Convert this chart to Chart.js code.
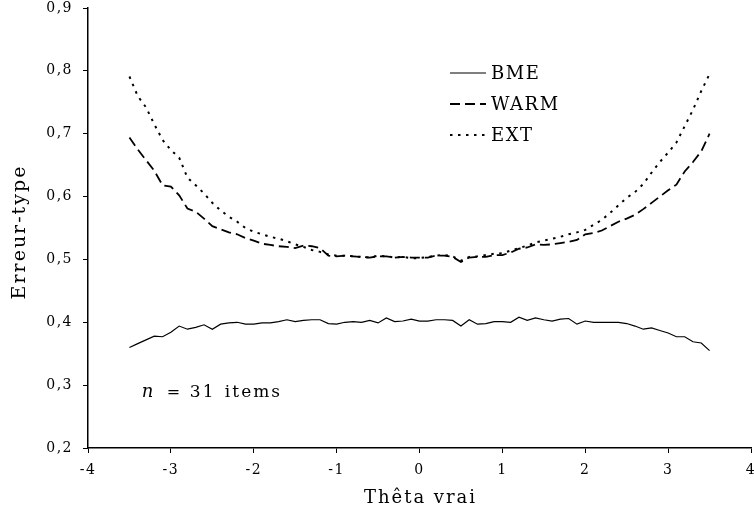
<!DOCTYPE html>
<html>
<head>
<meta charset="utf-8">
<script src="https://cdn.jsdelivr.net/npm/chart.js@4/dist/chart.umd.min.js"></script>
<style>
html,body{margin:0;padding:0;background:#fff;}
#wrap{width:754px;height:514px;position:relative;}
</style>
</head>
<body>
<div id="wrap"><canvas id="c" width="754" height="514"></canvas></div>
<script>
const thetas = [-3.5,-3.4,-3.3,-3.2,-3.1,-3.0,-2.9,-2.8,-2.7,-2.6,-2.5,-2.4,-2.3,-2.2,-2.1,-2.0,-1.9,-1.8,-1.7,-1.6,-1.5,-1.4,-1.3,-1.2,-1.1,-1.0,-0.9,-0.8,-0.7,-0.6,-0.5,-0.4,-0.3,-0.2,-0.1,0.0,0.1,0.2,0.3,0.4,0.5,0.6,0.7,0.8,0.9,1.0,1.1,1.2,1.3,1.4,1.5,1.6,1.7,1.8,1.9,2.0,2.1,2.2,2.3,2.4,2.5,2.6,2.7,2.8,2.9,3.0,3.1,3.2,3.3,3.4,3.5];
const bme = [0.360,0.366,0.372,0.378,0.377,0.384,0.394,0.389,0.392,0.396,0.389,0.397,0.399,0.400,0.397,0.397,0.399,0.399,0.401,0.404,0.401,0.403,0.404,0.404,0.398,0.397,0.400,0.401,0.400,0.403,0.399,0.407,0.401,0.402,0.405,0.402,0.402,0.404,0.404,0.403,0.394,0.404,0.397,0.398,0.401,0.401,0.400,0.408,0.403,0.407,0.404,0.402,0.405,0.406,0.397,0.402,0.400,0.400,0.400,0.400,0.398,0.394,0.389,0.391,0.387,0.383,0.377,0.377,0.369,0.367,0.355];
const warm = [0.694,0.675,0.658,0.641,0.618,0.616,0.602,0.581,0.576,0.565,0.553,0.548,0.543,0.540,0.534,0.530,0.525,0.523,0.521,0.520,0.518,0.522,0.521,0.518,0.506,0.505,0.506,0.505,0.504,0.503,0.505,0.505,0.503,0.504,0.503,0.503,0.503,0.506,0.506,0.504,0.496,0.503,0.504,0.504,0.507,0.507,0.511,0.517,0.519,0.524,0.523,0.524,0.526,0.528,0.531,0.540,0.542,0.546,0.553,0.560,0.565,0.571,0.580,0.590,0.600,0.610,0.619,0.640,0.655,0.672,0.700];
const ext = [0.791,0.760,0.742,0.715,0.690,0.674,0.662,0.630,0.618,0.605,0.590,0.578,0.568,0.560,0.550,0.544,0.540,0.536,0.533,0.529,0.524,0.520,0.515,0.512,0.508,0.506,0.506,0.505,0.504,0.503,0.506,0.505,0.503,0.504,0.502,0.502,0.504,0.506,0.507,0.505,0.498,0.504,0.505,0.507,0.509,0.510,0.514,0.518,0.522,0.527,0.530,0.533,0.536,0.540,0.543,0.547,0.555,0.563,0.574,0.586,0.598,0.607,0.620,0.638,0.655,0.670,0.686,0.712,0.738,0.768,0.795];
const seriesNames = ['BME','WARM','EXT'];
const xTitle = 'Thêta vrai';
const yTitle = 'Erreur-type';
const noteParts = ['n', '=', '31', 'items'];

const FONT = '"DejaVu Serif", serif';
const TICK_SPACING = '1.5px';
const pts = arr => thetas.map((t,i)=>({x:t,y:arr[i]}));

const spacing = {
  id:'spacing',
  beforeUpdate(chart){ chart.ctx.letterSpacing = TICK_SPACING; },
  beforeLayout(chart){ chart.ctx.letterSpacing = TICK_SPACING; },
  beforeDraw(chart){ chart.ctx.letterSpacing = TICK_SPACING; }
};

const overlay = {
  id:'overlay',
  afterDraw(chart){
    const ctx = chart.ctx;
    const xs = chart.scales.x, ys = chart.scales.y, ca = chart.chartArea;
    ctx.save();
    ctx.fillStyle = '#000';
    // legend
    const lx0 = 450, lx1 = 486;
    ctx.letterSpacing = '1.5px';
    chart.data.datasets.forEach((ds,i)=>{
      const y = [73,104,135][i];
      ctx.strokeStyle = '#000';
      ctx.lineWidth = ds.borderWidth;
      ctx.setLineDash(ds.borderDash || []);
      ctx.beginPath(); ctx.moveTo(lx0, y); ctx.lineTo(lx1, y); ctx.stroke();
      ctx.setLineDash([]);
      ctx.font = '18px ' + FONT;
      ctx.textBaseline = 'middle';
      ctx.textAlign = 'left';
      ctx.fillText(ds.label, lx1 + 5, y + 1);
    });
    // annotation
    const ax = xs.getPixelForValue(-3.35), ay = ys.getPixelForValue(0.288);
    ctx.textBaseline = 'middle';
    ctx.textAlign = 'left';
    ctx.letterSpacing = '0px';
    ctx.font = 'italic 18px ' + FONT;
    ctx.fillText(noteParts[0], ax, ay);
    ctx.font = '16px ' + FONT;
    ctx.fillText(noteParts[1], ax + 25, ay);
    ctx.letterSpacing = '2px';
    ctx.font = '17px ' + FONT;
    ctx.fillText(noteParts[2], ax + 48, ay);
    ctx.fillText(noteParts[3], ax + 83, ay);
    // x title
    ctx.letterSpacing = '2px';
    ctx.font = '18px ' + FONT;
    ctx.textAlign = 'center';
    ctx.fillText(xTitle, (ca.left + ca.right) / 2 + 1, 498);
    // y title
    ctx.translate(20, (ca.top + ca.bottom) / 2 + 4);
    ctx.rotate(-Math.PI / 2);
    ctx.letterSpacing = '2px';
    ctx.font = '19px ' + FONT;
    ctx.fillText(yTitle, 0, 0);
    ctx.restore();
  }
};

new Chart(document.getElementById('c'), {
  type:'line',
  data:{
    datasets:[
      {label:seriesNames[0], data:pts(bme), borderColor:'#000', borderWidth:1.2, pointRadius:0, tension:0, fill:false},
      {label:seriesNames[1], data:pts(warm), borderColor:'#000', borderWidth:1.8, borderDash:[10,5], pointRadius:0, tension:0, fill:false},
      {label:seriesNames[2], data:pts(ext), borderColor:'#000', borderWidth:2, borderDash:[2.5,5.5], pointRadius:0, tension:0, fill:false}
    ]
  },
  options:{
    responsive:false,
    animation:false,
    layout:{padding:{left:0,right:3,top:8,bottom:0}},
    plugins:{legend:{display:false}, tooltip:{enabled:false}},
    scales:{
      x:{
        type:'linear', min:-4, max:4,
        ticks:{stepSize:1, color:'#000', font:{family:FONT,size:14}, padding:9, maxRotation:0,
          callback:v=>String(v)},
        grid:{drawOnChartArea:false, tickLength:5, color:'#000', tickColor:'#000'},
        border:{display:true,color:'#000',width:1.5},
        title:{display:false},
        afterFit(s){s.height = 66; s.paddingLeft = 0; s.paddingRight = 0;}
      },
      y:{
        min:0.2, max:0.9,
        ticks:{stepSize:0.1, color:'#000', font:{family:FONT,size:14}, padding:10,
          callback:v=>v.toFixed(1).replace('.',',')},
        grid:{drawOnChartArea:false, tickLength:5, color:'#000', tickColor:'#000'},
        border:{display:true,color:'#000',width:1.5},
        title:{display:false},
        afterFit(s){s.width = 88; s.paddingTop = 0; s.paddingBottom = 0;}
      }
    }
  },
  plugins:[spacing, overlay]
});
</script>
</body>
</html>
